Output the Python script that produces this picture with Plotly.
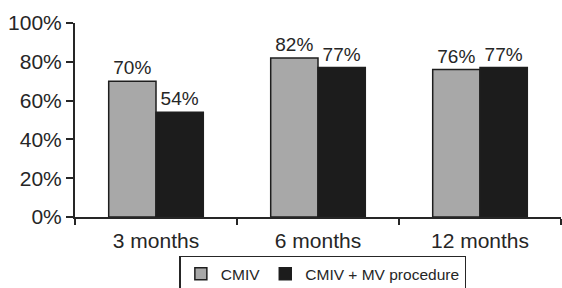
import plotly.graph_objects as go

categories = ["3 months", "6 months", "12 months"]
cmiv = [70, 82, 76]
cmiv_mv = [54, 77, 77]
cmiv_labels = ["70%", "82%", "76%"]
cmiv_mv_labels = ["54%", "77%", "77%"]
y_ticks = [0, 20, 40, 60, 80, 100]
y_tick_labels = ["0%", "20%", "40%", "60%", "80%", "100%"]

FONT = "Liberation Sans, Arial, Helvetica, sans-serif"
INK = "#262626"

fig = go.Figure()
fig.add_trace(go.Bar(
    x=categories, y=cmiv, name="CMIV",
    marker=dict(color="#a8a8a8", line=dict(color="#1e1e1e", width=1.5)),
    text=cmiv_labels, textposition="outside",
    textfont=dict(size=19, color=INK, family=FONT),
    cliponaxis=False,
))
fig.add_trace(go.Bar(
    x=categories, y=cmiv_mv, name="CMIV + MV procedure",
    marker=dict(color="#1c1c1c", line=dict(color="#1e1e1e", width=1.5)),
    text=cmiv_mv_labels, textposition="outside",
    textfont=dict(size=19, color=INK, family=FONT),
    cliponaxis=False,
))

fig.update_layout(
    width=562, height=288,
    margin=dict(l=75, r=1, t=23, b=71, pad=0),
    paper_bgcolor="white", plot_bgcolor="white",
    barmode="group", bargap=0.416, bargroupgap=0,
    font=dict(family=FONT, color=INK),
    uniformtext=dict(mode=False),
    showlegend=True,
    legend=dict(
        orientation="h", x=0.51, xanchor="center",
        yref="container", y=0.112, yanchor="top",
        bordercolor=INK, borderwidth=1.5, bgcolor="white",
        font=dict(size=15.5, family=FONT, color=INK),
        itemwidth=30, traceorder="normal",
    ),
    xaxis=dict(
        type="category", showline=True, linecolor=INK, linewidth=2,
        ticks="outside", tickson="boundaries", ticklen=6, tickwidth=2,
        tickcolor=INK, tickfont=dict(size=21, family=FONT, color=INK),
        ticklabelstandoff=4,
        showgrid=False, zeroline=False, automargin=False,
    ),
    yaxis=dict(
        range=[0, 100], tickvals=y_ticks, ticktext=y_tick_labels,
        showline=True, linecolor=INK, linewidth=2,
        ticks="outside", ticklen=7, tickwidth=2, tickcolor=INK,
        tickfont=dict(size=21, family=FONT, color=INK),
        showgrid=False, zeroline=False, automargin=False,
    ),
)

fig.write_html(
    "out.html",
    config={"displayModeBar": False},
    post_script="document.body.style.margin='0';document.body.style.padding='0';",
)
